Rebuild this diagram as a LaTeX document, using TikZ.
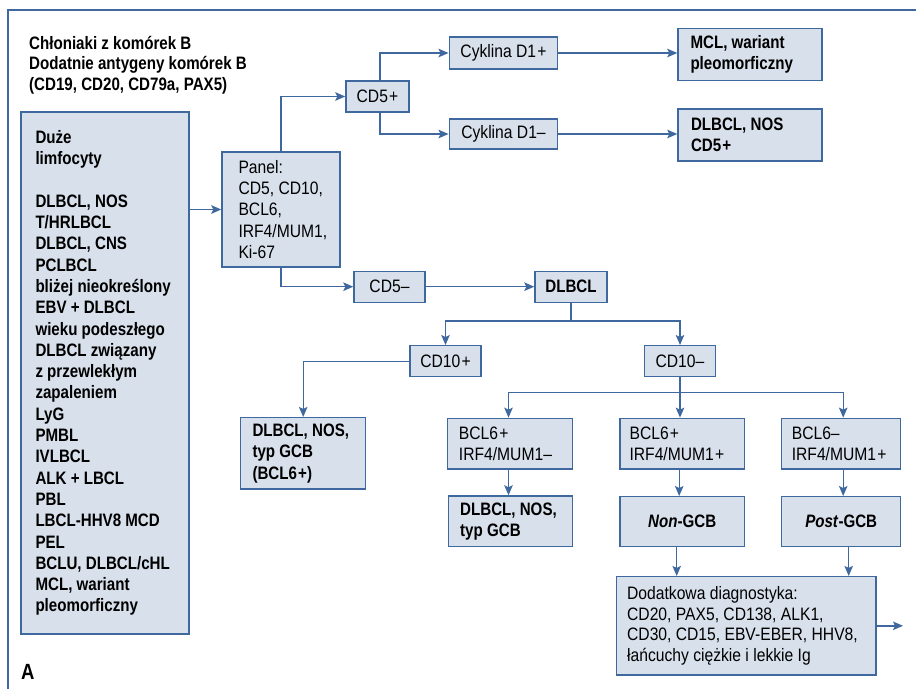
\documentclass[tikz,border=0pt]{standalone}
\usepackage{fontspec}
\setmainfont{Liberation Sans}[FakeStretch=0.87,
  BoldFeatures={FakeStretch=0.84},
  BoldItalicFeatures={FakeStretch=0.84}]
\usetikzlibrary{arrows.meta}
\definecolor{lineblue}{RGB}{62,104,158}
\definecolor{boxfill}{RGB}{216,224,235}
\newcommand\txtsize{\fontsize{18pt}{21.3pt}\selectfont}
\newcommand\txtsizetight{\fontsize{18pt}{20.4pt}\selectfont}
\newcommand\pl{\kern1.2pt+}

\begin{document}
\begin{tikzpicture}[x=1pt,y=-1pt,
  bx/.style={draw=lineblue, fill=boxfill, line width=1.4pt, inner sep=0pt,
    align=center, font=\txtsize},
  lt/.style={anchor=west, inner sep=0pt, align=left, font=\txtsize},
  arr/.style={draw=lineblue, line width=1.4pt,
    -{Stealth[length=10pt,width=8.5pt,inset=2pt]}},
  ln/.style={draw=lineblue, line width=1.4pt},
  frame/.style={draw=lineblue, line width=1.2pt}]
\useasboundingbox (0,0) rectangle (916,689);

% outer frame, open on the right and bottom
\draw[frame] (916,10) -- (8,10) -- (8,689);

% heading and panel letter
\node[lt, font=\txtsizetight\bfseries] (title) at (29,65)
  {Chłoniaki z komórek B\\Dodatnie antygeny komórek B\\(CD19, CD20, CD79a, PAX5)};
\node[lt, font=\fontsize{22pt}{26pt}\selectfont\bfseries] (panelA) at (21,672) {A};

% list of large B-cell lymphomas
\node[bx, minimum width=168pt, minimum height=522pt] (big) at (105,373) {};
\node[lt, font=\txtsize\bfseries] (big-t) at ([xshift=15pt]big.west)
  {Duże\\limfocyty\\[21.3pt]DLBCL, NOS\\T/HRLBCL\\DLBCL, CNS\\PCLBCL\\bliżej nieokreślony\\EBV + DLBCL\\wieku podeszłego\\DLBCL związany\\z przewlekłym\\zapaleniem\\LyG\\PMBL\\IVLBCL\\ALK + LBCL\\PBL\\LBCL-HHV8 MCD\\PEL\\BCLU, DLBCL/cHL\\MCL, wariant\\pleomorficzny};

% staining panel
\node[bx, minimum width=118pt, minimum height=115pt] (panel) at (281,209.5) {};
\node[lt] (panel-t) at ([xshift=17pt]panel.west)
  {Panel:\\CD5, CD10,\\BCL6,\\IRF4/MUM1,\\Ki-67};

% CD5 branch
\node[bx, minimum width=63pt, minimum height=31pt] (cd5p) at (377.5,96.5) {CD5\pl};
\node[bx, minimum width=108.5pt, minimum height=32pt] (cyc1) at (503.5,53) {Cyklina D1\pl};
\node[bx, minimum width=108.5pt, minimum height=30pt] (cyc2) at (503.5,134) {Cyklina D1–};
\node[bx, minimum width=144pt, minimum height=52pt] (mcl) at (750,54.2) {};
\node[lt, font=\txtsize\bfseries] (mcl-t) at ([xshift=13pt]mcl.west) {MCL, wariant\\pleomorficzny};
\node[bx, minimum width=144pt, minimum height=52pt] (dnos) at (750,135) {};
\node[lt, font=\txtsize\bfseries] (dnos-t) at ([xshift=13.5pt]dnos.west) {DLBCL, NOS\\CD5\pl};

\node[bx, minimum width=71pt, minimum height=31pt] (cd5m) at (389.5,286.7) {CD5–};
\node[bx, minimum width=72pt, minimum height=31pt, font=\txtsize\bfseries] (dlbcl) at (571,286.7) {DLBCL};

% CD10 branch
\node[bx, minimum width=71pt, minimum height=31pt] (cd10p) at (445.5,361.2) {CD10\pl};
\node[bx, minimum width=71.4pt, minimum height=31pt] (cd10m) at (680,361.2) {CD10–};

\node[bx, minimum width=125pt, minimum height=71.3pt] (gcb1) at (303.2,453.3) {};
\node[lt, font=\txtsize\bfseries] (gcb1-t) at ([xshift=12.3pt]gcb1.west) {DLBCL, NOS,\\typ GCB\\(BCL6\pl)};

\node[bx, minimum width=124.6pt, minimum height=50.7pt] (b1) at (510,443.7) {};
\node[lt] (b1-t) at ([xshift=11.7pt]b1.west) {BCL6\pl\\IRF4/MUM1–};
\node[bx, minimum width=124.3pt, minimum height=50.7pt] (b2) at (682.2,443.7) {};
\node[lt] (b2-t) at ([xshift=10pt]b2.west) {BCL6\pl\\IRF4/MUM1\pl};
\node[bx, minimum width=119pt, minimum height=50.7pt] (b3) at (841.2,443.7) {};
\node[lt] (b3-t) at ([xshift=10.6pt]b3.west) {BCL6–\\IRF4/MUM1\pl};

\node[bx, minimum width=124.4pt, minimum height=50.7pt] (gcb2) at (510.5,521.3) {};
\node[lt, font=\txtsize\bfseries] (gcb2-t) at ([xshift=12.4pt]gcb2.west) {DLBCL, NOS,\\typ GCB};
\node[bx, minimum width=124.3pt, minimum height=50pt, font=\txtsize\bfseries] (nongcb) at (682.2,521.7) {\textit{Non}-GCB};
\node[bx, minimum width=119pt, minimum height=50pt, font=\txtsize\bfseries] (postgcb) at (841.2,521.7) {\textit{Post}-GCB};

\node[bx, minimum width=259.3pt, minimum height=98.3pt] (dod) at (746.3,625.8) {};
\node[lt, font=\txtsizetight] (dod-t) at ([xshift=11pt]dod.west)
  {Dodatkowa diagnostyka:\\CD20, PAX5, CD138, ALK1,\\CD30, CD15, EBV-EBER, HHV8,\\łańcuchy ciężkie i lekkie Ig};

\coordinate (j1) at (572,321);
\coordinate (j2) at (680,392.3);
\coordinate (out) at (903,625.8);

% connectors
\draw[arr] (big.east |- panel.west) -- (panel.west);
\draw[arr] (panel.north) |- (cd5p.west);
\draw[arr] ([xshift=2.5pt]cd5p.north) |- (cyc1.west);
\draw[arr] ([xshift=2.5pt]cd5p.south) |- (cyc2.west);
\draw[arr] (cyc1.east) -- (cyc1.east -| mcl.west);
\draw[arr] (cyc2.east) -- (cyc2.east -| dnos.west);
\draw[arr] (panel.south) |- (cd5m.west);
\draw[arr] (cd5m.east) -- (dlbcl.west);
\draw[ln] (dlbcl.south) -- (dlbcl.south |- j1);
\draw[arr] (j1) -| (cd10p.north);
\draw[arr] (j1) -| (cd10m.north);
\draw[arr] (cd10p.west) -| (gcb1.north);
\draw[ln] (cd10m.south) -- (j2);
\draw[arr] (j2) -| ([xshift=-1.5pt]b1.north);
\draw[arr] (j2) -- (j2 |- b2.north);
\draw[arr] (j2) -| ([xshift=2pt]b3.north);
\draw[arr] ([xshift=-1.5pt]b1.south) -- ([xshift=-1.5pt]b1.south |- gcb2.north);
\draw[arr] ([xshift=-3pt]b2.south) -- ([xshift=-3pt]b2.south |- nongcb.north);
\draw[arr] ([xshift=2pt]b3.south) -- ([xshift=2pt]b3.south |- postgcb.north);
\draw[arr] ([xshift=-5.5pt]nongcb.south) -- ([xshift=-5.5pt]nongcb.south |- dod.north);
\draw[arr] ([xshift=7.5pt]postgcb.south) -- ([xshift=7.5pt]postgcb.south |- dod.north);
\draw[arr] (dod.east) -- (out);
\end{tikzpicture}
\end{document}
